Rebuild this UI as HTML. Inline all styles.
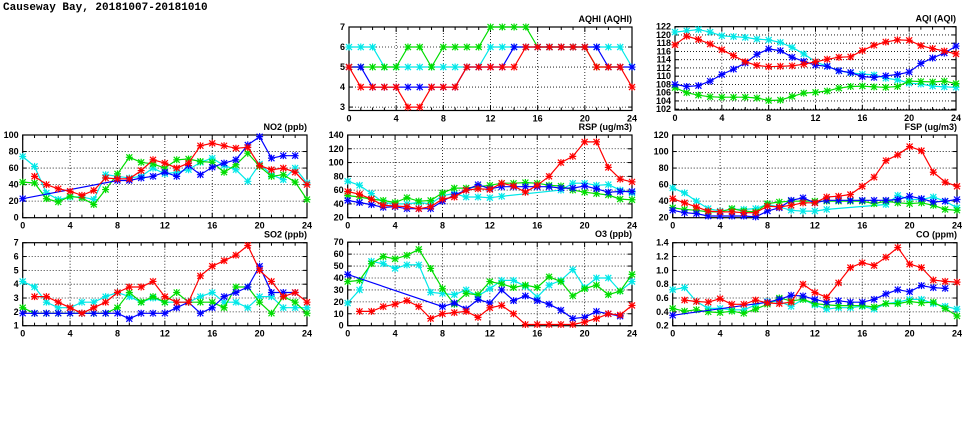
<!DOCTYPE html>
<html><head><meta charset="utf-8"><style>
body{margin:0;background:#fff;width:975px;height:447px;overflow:hidden}
svg{display:block}
text{font-family:"Liberation Sans",sans-serif;font-weight:bold;font-size:9px;fill:#000}
</style></head><body>
<svg id="chart" width="975" height="447" xmlns="http://www.w3.org/2000/svg">
<text x="3" y="10" style="font-family:'Liberation Mono',monospace;font-size:11px">Causeway Bay, 20181007-20181010</text>
</svg>
<script>
const hours=[0,1,2,3,4,5,6,7,8,9,10,11,12,13,14,15,16,17,18,19,20,21,22,23,24];
const xTicks=[0,4,8,12,16,20,24];
const N=null;
// AQHI
const aqhiCyan=[6,6,6,5,5,5,5,5,5,5,5,5,6,6,6,6,6,6,6,6,6,6,6,6,5];
const aqhiGreen=[5,5,5,5,5,6,6,5,6,6,6,6,7,7,7,7,6,6,6,6,6,5,5,5,N];
const aqhiBlue=[5,5,4,4,4,4,4,4,4,4,5,5,5,5,6,6,6,6,6,6,6,6,5,5,5];
const aqhiRed=[5,4,4,4,4,3,3,4,4,4,5,5,5,5,5,6,6,6,6,6,6,5,5,5,4];
const aqhiTicks=[3,4,5,6,7];
// AQI
const aqiCyan=[120.7,121,121.3,120.7,119.8,119.6,119.4,119,118.8,118.2,117,115.4,113.5,112.4,111.3,110.8,110.5,110.3,109.5,109.1,108.3,108.1,107.6,107.4,107.3];
const aqiGreen=[107.2,106,105.4,105,104.9,104.9,104.9,104.7,104.1,104.2,105.1,105.9,106.1,106.4,107.1,107.5,107.6,107.4,107.3,107.5,108.8,108.7,108.6,108.8,108.2];
const aqiBlue=[108,107.5,107.7,108.8,110.4,111.7,113.2,115.3,116.6,116.2,114.6,113.6,112.7,112.4,111.3,110.9,109.9,109.7,110.1,110.4,111,113.1,114.4,115.6,117.3];
const aqiRed=[117.6,119.7,118.9,117.8,116.4,115,113.5,112.6,112.3,112.4,112.5,112.9,113.5,114.1,114.6,114.7,116.2,117.5,118.3,118.8,118.7,117.4,116.7,116.1,115.4];
const aqiTicks=[102,104,106,108,110,112,114,116,118,120,122];
// NO2
const no2Cyan=[74,62,30,22,25,25,22,52,50,48,50,60,53,55,58,67,72,63,58,44,65,52,46,60,42];
const no2Green=[43,42,23,19,26,24,16,34,53,73,67,65,60,70,71,68,67,55,64,78,62,50,52,43,22];
const no2Blue=[23,N,N,N,N,N,N,N,45,45,48,50,55,50,63,52,61,66,70,88,98,72,75,75,N];
const no2Red=[N,50,40,35,32,27,33,48,47,47,57,70,66,60,66,87,90,87,84,85,63,58,60,55,40];
const no2Ticks=[0,20,40,60,80,100];
// RSP
const rspCyan=[73,67,55,42,40,40,42,40,52,55,50,50,49,51,N,N,N,N,60,70,70,67,68,60,56];
const rspGreen=[52,50,47,45,42,49,44,45,56,63,63,65,67,70,70,71,70,67,66,60,57,55,53,47,46];
const rspBlue=[45,42,39,35,36,33,33,33,44,53,60,68,62,65,65,65,65,65,63,63,66,62,57,58,58];
const rspRed=[58,54,47,38,37,36,33,36,47,50,60,62,61,70,66,57,67,80,100,109,130,130,93,76,72];
const rspTicks=[20,40,60,80,100,120,140];
// FSP
const fspCyan=[56,50,40,31,28,30,30,31,36,33,29,28,28,30,N,N,N,N,36,47,42,42,45,40,32];
const fspGreen=[32,30,29,27,27,31,28,27,37,39,40,40,40,40,40,40,40,37,40,38,37,38,35,30,29];
const fspBlue=[29,26,25,22,22,22,22,21,28,32,41,44,38,41,41,41,41,41,41,42,46,43,39,40,42];
const fspRed=[43,38,33,28,27,27,26,26,34,33,35,38,38,45,46,48,58,69,89,96,106,101,75,63,58];
const fspTicks=[20,40,60,80,100,120];
// SO2
const so2Cyan=[4.2,3.8,2.7,2.3,2.3,2.7,2.7,3.1,3.4,3.1,2.7,3.0,2.7,2.7,2.7,3.1,3.4,2.7,2.7,2.3,3.1,3.1,2.3,2.3,2.3];
const so2Green=[2.3,1.9,1.9,1.9,1.9,1.9,1.9,1.9,2.3,3.4,2.7,3.1,2.7,3.4,2.7,2.7,2.7,2.3,3.8,3.8,2.7,1.9,3.1,2.7,1.9];
const so2Blue=[1.9,1.9,1.9,1.9,1.9,1.9,1.9,1.9,1.9,1.5,1.9,1.9,1.9,2.3,2.7,1.9,2.3,3.1,3.4,3.8,5.3,3.4,3.4,3.4,N];
const so2Red=[N,3.1,3.1,2.7,2.3,1.9,2.3,2.7,3.4,3.8,3.8,4.2,3.1,2.7,2.7,4.6,5.3,5.7,6.1,6.8,5.0,4.2,3.1,3.4,2.7];
const so2Ticks=[1,2,3,4,5,6,7];
// O3
const o3Cyan=[19,30,54,52,48,51,51,28,27,26,30,25,31,38,38,33,24,34,38,47,32,40,40,29,37];
const o3Green=[37,38,52,58,56,59,64,48,31,18,27,26,37,35,32,34,32,41,37,25,31,34,26,29,43];
const o3Blue=[43,N,N,N,N,N,N,N,16,19,14,22,19,30,21,25,21,18,13,6,7,12,10,8,N];
const o3Red=[N,12,12,16,18,21,16,6,10,11,12,7,15,17,10,1,1,1,1,1,3,6,10,9,17];
const o3Ticks=[0,10,20,30,40,50,60,70];
// CO
const coCyan=[0.72,0.75,0.55,0.45,0.45,0.43,0.43,0.5,0.55,0.55,0.48,0.58,0.5,0.44,0.46,0.46,0.48,0.44,0.52,0.54,0.58,0.58,0.52,0.48,0.44];
const coGreen=[0.45,0.41,0.43,0.4,0.39,0.41,0.38,0.44,0.51,0.6,0.56,0.58,0.52,0.5,0.49,0.49,0.49,0.47,0.52,0.52,0.55,0.53,0.54,0.45,0.34];
const coBlue=[0.35,N,N,N,N,N,N,N,0.54,0.58,0.64,0.63,0.58,0.54,0.56,0.54,0.54,0.58,0.66,0.72,0.69,0.78,0.75,0.74,N];
const coRed=[N,0.57,0.55,0.54,0.59,0.51,0.51,0.57,0.53,0.52,0.54,0.8,0.68,0.61,0.82,1.04,1.11,1.07,1.19,1.33,1.09,1.04,0.86,0.84,0.83];
const coTicks=[0.2,0.4,0.6,0.8,1.0,1.2,1.4];

const svg=document.getElementById('chart');
const NS='http://www.w3.org/2000/svg';
function mk(tag,attrs,parent){const e=document.createElementNS(NS,tag);for(const k in attrs)e.setAttribute(k,attrs[k]);(parent||svg).appendChild(e);return e;}

const colors={cyan:'#00e8e8',green:'#00dd00',blue:'#0000ff',red:'#ff0000'};

function panel(name,title,x0,x1,y0,y1,vmin,vmax,ticks,fmt,series){
  const g=mk('g',{});
  
  
  const sx=h=>x0+(h-0)/24*(x1-x0);
  const sy=v=>y1-(v-vmin)/(vmax-vmin)*(y1-y0);
  // grid
  ticks.forEach(t=>{const y=sy(t);
    if(y>y0+0.5&&y<y1-0.5){const l=mk('line',{x1:x0,x2:x1,y1:y,y2:y,stroke:'#000','stroke-width':0.8,'stroke-dasharray':'1,2'},g);}
    mk('line',{x1:x0,x2:x0+4,y1:y,y2:y,stroke:'#000'},g);mk('line',{x1:x1,x2:x1-4,y1:y,y2:y,stroke:'#000'},g);
    const tx=mk('text',{x:x0-4,y:y+3,'text-anchor':'end'},g);tx.textContent=fmt(t);
    
    
  });
  xTicks.forEach(t=>{const x=sx(t);
    if(t>0&&t<24){const l=mk('line',{x1:x,x2:x,y1:y0,y2:y1,stroke:'#000','stroke-width':0.8,'stroke-dasharray':'1,2'},g);}
    const tx=mk('text',{x:x,y:y1+11,'text-anchor':'middle'},g);tx.textContent=t;
    
    
  });
  hours.forEach(h=>{const x=sx(h);mk('line',{x1:x,x2:x,y1:y1,y2:y1-(h%4?3:5),stroke:'#000'},g);mk('line',{x1:x,x2:x,y1:y0,y2:y0+(h%4?3:5),stroke:'#000'},g);});
  const fr=mk('rect',{x:x0,y:y0,width:x1-x0,height:y1-y0,fill:'none',stroke:'#000','stroke-width':1.2},g);
  
  
  const tt=mk('text',{x:x1,y:y0-5,'text-anchor':'end'},g);tt.textContent=title;
  
  
  series.forEach(([cname,vals])=>{
    const c=colors[cname];
    const pts=[];vals.forEach((v,i)=>{if(v!==null)pts.push([sx(hours[i]),sy(v)]);});
    const pl=mk('polyline',{points:pts.map(p=>p[0].toFixed(1)+','+p[1].toFixed(1)).join(' '),fill:'none',stroke:c,'stroke-width':1.2},g);
    
    
    pts.forEach(p=>{
      const m=mk('path',{d:`M${p[0]-3},${p[1]-3}L${p[0]+3},${p[1]+3}M${p[0]-3},${p[1]+3}L${p[0]+3},${p[1]-3}M${p[0]-3.5},${p[1]}L${p[0]+3.5},${p[1]}M${p[0]},${p[1]-3.5}L${p[0]},${p[1]+3.5}`,stroke:c,'stroke-width':1.2},g);
      
      
    });
  });
}
const f0=v=>String(v), f1=v=>v.toFixed(1);
panel('aqhi','AQHI (AQHI)',349,632,27,110.5,2.83,7,aqhiTicks,f0,[['cyan',aqhiCyan],['green',aqhiGreen],['blue',aqhiBlue],['red',aqhiRed]]);
panel('aqi','AQI (AQI)',675,956,26.7,110,101.8,122,aqiTicks,f0,[['cyan',aqiCyan],['green',aqiGreen],['blue',aqiBlue],['red',aqiRed]]);
panel('no2','NO2 (ppb)',22.7,307,135,217.7,0,100,no2Ticks,f0,[['cyan',no2Cyan],['green',no2Green],['blue',no2Blue],['red',no2Red]]);
panel('rsp','RSP (ug/m3)',347.7,632,135,217.7,20,140,rspTicks,f0,[['cyan',rspCyan],['green',rspGreen],['blue',rspBlue],['red',rspRed]]);
panel('fsp','FSP (ug/m3)',672.7,957,135,217.7,20,120,fspTicks,f0,[['cyan',fspCyan],['green',fspGreen],['blue',fspBlue],['red',fspRed]]);
panel('so2','SO2 (ppb)',22.7,307,242.7,325.7,1,7,so2Ticks,f0,[['cyan',so2Cyan],['green',so2Green],['blue',so2Blue],['red',so2Red]]);
panel('o3','O3 (ppb)',347.7,632,242.2,325.7,0,70,o3Ticks,f0,[['cyan',o3Cyan],['green',o3Green],['blue',o3Blue],['red',o3Red]]);
panel('co','CO (ppm)',672.7,957,242.7,325.7,0.2,1.4,coTicks,f1,[['cyan',coCyan],['green',coGreen],['blue',coBlue],['red',coRed]]);
</script>
</body></html>
